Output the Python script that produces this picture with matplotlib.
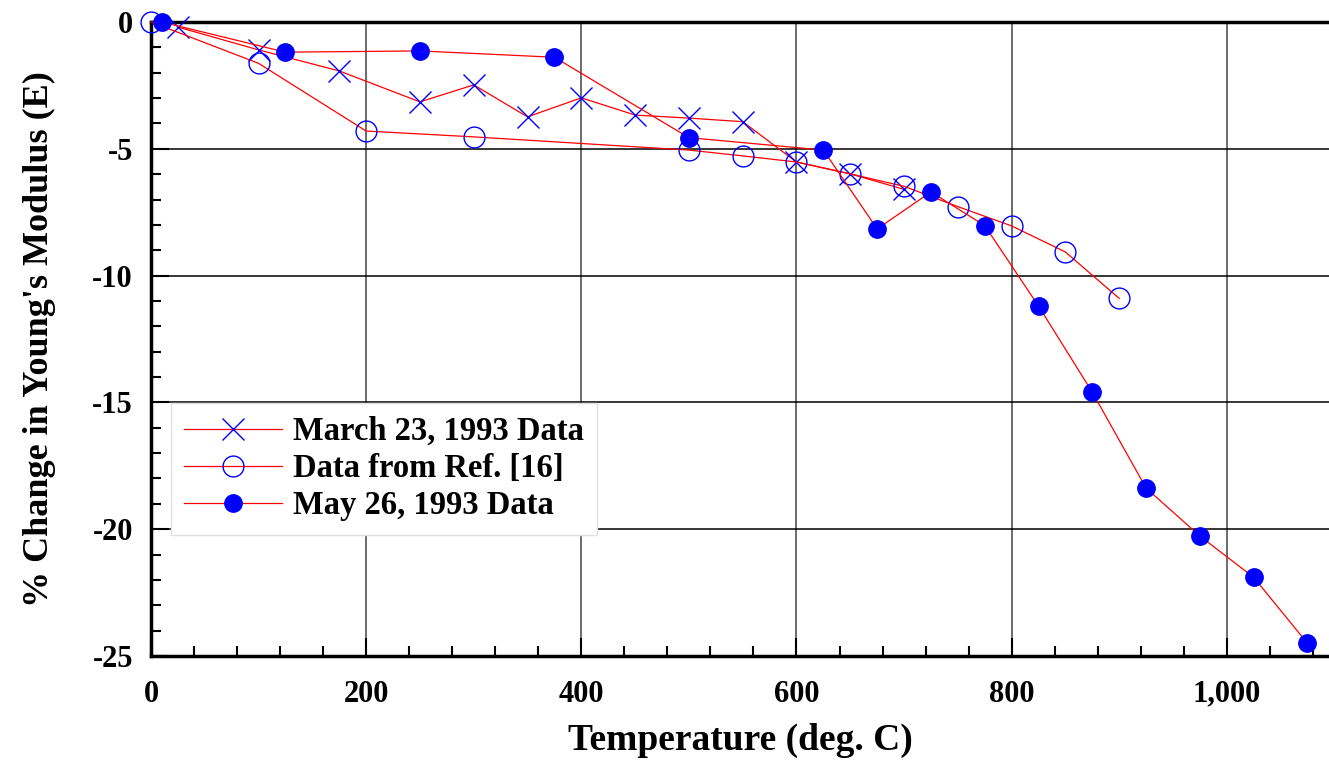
import matplotlib
matplotlib.use("Agg")
import matplotlib.pyplot as plt
from matplotlib.ticker import MultipleLocator, FuncFormatter

# March 23, 1993 data (x markers)
march_temp = [25, 100, 175, 250, 300, 350, 400, 450, 500, 550, 600, 650, 700]
march_e = [-0.2, -1.1, -1.93, -3.15, -2.48, -3.74, -2.99, -3.67, -3.79, -3.93, -5.52, -5.99, -6.6]

# Data from Ref. [16] (open circles)
ref_temp = [0, 100, 200, 300, 500, 550, 600, 650, 700, 750, 800, 850, 900]
ref_e = [0.0, -1.63, -4.3, -4.53, -5.05, -5.28, -5.52, -5.99, -6.48, -7.28, -8.04, -9.07, -10.9]

# May 26, 1993 data (filled circles)
may_temp = [10, 125, 250, 375, 500, 625, 675, 725, 775, 825, 875, 925, 975, 1025, 1075]
may_e = [0.0, -1.19, -1.14, -1.39, -4.56, -5.05, -8.16, -6.7, -8.03, -11.2, -14.6, -18.38, -20.27, -21.9, -24.5]

plt.rcParams['font.family'] = ['Liberation Serif', 'DejaVu Serif']
plt.rcParams['font.weight'] = 'bold'
plt.rcParams['axes.unicode_minus'] = False

fig = plt.figure(figsize=(13.29, 7.65), dpi=100)
ax = fig.add_axes([151 / 1329, 1 - 656 / 765, 1 - 151 / 1329, (656 - 22) / 765])

red = '#ff0000'
blue = '#0000ff'

ax.plot(march_temp, march_e, color=red, lw=0.9, marker='x', ms=16, mec=blue, mew=1.0,
        label='March 23, 1993 Data', clip_on=False, zorder=3)
ax.plot(ref_temp, ref_e, color=red, lw=0.9, marker='o', ms=15, mfc='none', mec=blue, mew=1.0,
        label='Data from Ref. [16]', clip_on=False, zorder=3)
ax.plot(may_temp, may_e, color=red, lw=0.9, marker='o', ms=12.5, mfc=blue, mec=blue,
        label='May 26, 1993 Data', clip_on=False, zorder=4)

ax.set_xlim(0, 1095)
ax.set_ylim(-25, 0)

ax.xaxis.set_major_locator(MultipleLocator(200))
ax.xaxis.set_minor_locator(MultipleLocator(40))
ax.yaxis.set_major_locator(MultipleLocator(5))
ax.yaxis.set_minor_locator(MultipleLocator(1))
ax.xaxis.set_major_formatter(FuncFormatter(lambda v, p: f'{int(v):,}'))
ax.yaxis.set_major_formatter(FuncFormatter(lambda v, p: f'{int(v)}'))

for v in range(200, 1001, 200):
    ax.axvline(v, color='#444444', lw=1.1, zorder=1)
for v in range(-20, 0, 5):
    ax.axhline(v, color='black', lw=1.1, zorder=1)

ax.tick_params(which='major', direction='in', length=13, width=1.5, labelsize=22)
ax.tick_params(which='minor', direction='in', length=7, width=1.5)
ax.tick_params(axis='x', which='major', pad=17)
ax.tick_params(axis='y', which='major', pad=13)
ax.tick_params(top=False, right=False)

for side in ['left', 'bottom', 'top']:
    ax.spines[side].set_linewidth(2.5)
ax.spines['right'].set_visible(False)

ax.set_xlabel('Temperature (deg. C)', fontsize=27, fontweight='bold', labelpad=10)
ax.set_ylabel("% Change in Young's Modulus (E)", fontsize=26, fontweight='bold', labelpad=26)

leg = ax.legend(loc='upper left', bbox_to_anchor=(0.017, 0.399), borderaxespad=0,
                fontsize=23.5, frameon=True, fancybox=False, edgecolor='#e0e0e0',
                framealpha=1, handlelength=3.0, handletextpad=0.35, labelspacing=0.19,
                borderpad=0.4)
leg.set_zorder(5)
for t in leg.get_texts():
    t.set_fontweight('bold')

fig.savefig('out.png', dpi=100)
